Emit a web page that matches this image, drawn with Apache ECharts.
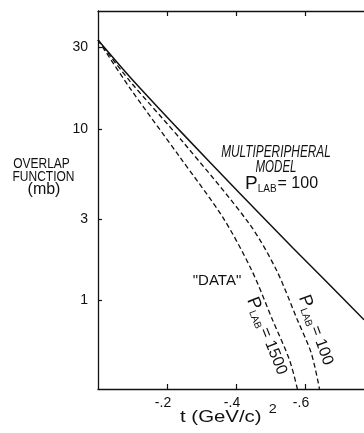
<!DOCTYPE html>
<html><head><meta charset="utf-8">
<script src="https://cdn.jsdelivr.net/npm/echarts@6/dist/echarts.min.js"></script>
<style>html,body{margin:0;padding:0;background:#fff}#c{width:364px;height:433px}</style>
</head><body><div id="c"></div>
<script>
// ---- data ----
const xTicks = [-0.6, -0.4, -0.2];
const xTickLabels = ['-.6', '-.4', '-.2'];
const yTicks = [1, 3, 10, 30];
const yTickLabels = ['1', '3', '10', '30'];

const tModel = [0, -0.0925, -0.246, -0.41, -0.565, -0.656, -0.771];
const model100 = [33.2, 20.2, 9.4, 4.25, 2.03, 1.33, 0.774];

const tData100 = [0, -0.0925, -0.246, -0.439, -0.517, -0.578, -0.618, -0.642];
const data100 = [33.2, 19.1, 8.44, 2.80, 1.51, 0.771, 0.495, 0.305];

const tData1500 = [0, -0.0925, -0.237, -0.361, -0.445, -0.506, -0.555, -0.578];
const data1500 = [33.2, 17.4, 6.89, 3.08, 1.51, 0.771, 0.451, 0.305];

const FONT = 'Liberation Sans';
const INK = '#111';

const pairs = (xs, ys) => xs.map((x, i) => [x, ys[i]]);

const chart = echarts.init(document.getElementById('c'), null, {renderer: 'canvas'});

const axisCommon = {
  type: 'value', min: -0.771, max: 0, inverse: true,
  axisLine: {show: true, onZero: false, lineStyle: {color: INK, width: 1.3}},
  axisTick: {show: true, inside: true, length: 5, customValues: xTicks, lineStyle: {color: INK, width: 1.2}},
  splitLine: {show: false}
};

function txt(x, y, text, size, opts) {
  opts = opts || {};
  const st = opts.style || {};
  const rest = Object.assign({}, opts);
  delete rest.style;
  return Object.assign({type: 'text', x: x, y: y, silent: true}, rest, {
    style: Object.assign({
      text: text, fill: INK, font: 'normal ' + size + 'px "' + FONT + '"',
      textAlign: 'center', textVerticalAlign: 'middle'
    }, st)
  });
}

function plab(x, y, num, rotDeg) {
  return {
    type: 'text', x: x, y: y, rotation: -rotDeg * Math.PI / 180, silent: true,
    style: {
      text: '{p|P}{s|LAB}{n|= ' + num + '}',
      textAlign: 'center', textVerticalAlign: 'middle', fill: INK,
      rich: {
        p: {fontSize: 18, fontFamily: FONT, color: INK},
        s: {fontSize: 10, fontFamily: FONT, color: INK, padding: [10, 2, 0, 0]},
        n: {fontSize: 16, fontFamily: FONT, color: INK}
      }
    }
  };
}

chart.setOption({
  animation: false,
  backgroundColor: '#fff',
  grid: {left: 98, top: 11, right: 0, bottom: 44, containLabel: false},
  xAxis: [
    Object.assign({}, axisCommon, {
      position: 'bottom',
      axisLabel: {
        show: true, customValues: xTicks, margin: 7, color: INK, fontSize: 14, fontFamily: FONT,
        padding: [0, 8, 0, 0],
        formatter: v => { const i = xTicks.findIndex(t => Math.abs(t - v) < 1e-9); return i >= 0 ? xTickLabels[i] : ''; }
      }
    }),
    Object.assign({}, axisCommon, {position: 'top', axisLabel: {show: false}})
  ],
  yAxis: {
    type: 'log', logBase: 10, min: 0.305, max: 49,
    axisLine: {show: true, onZero: false, lineStyle: {color: INK, width: 1.3}},
    axisTick: {show: true, inside: true, length: 4, customValues: yTicks, lineStyle: {color: INK, width: 1.2}},
    axisLabel: {
      show: true, customValues: yTicks, margin: 10, color: INK, fontSize: 14, fontFamily: FONT,
      formatter: v => { const i = yTicks.findIndex(t => Math.abs(t - v) < 1e-6); return i >= 0 ? yTickLabels[i] : ''; }
    },
    minorTick: {show: false},
    splitLine: {show: false}
  },
  series: [
    {
      name: 'Multiperipheral model, PLAB = 100', type: 'line', xAxisIndex: 0,
      data: pairs(tModel, model100), smooth: 0.25, showSymbol: false, symbol: 'none',
      lineStyle: {color: INK, width: 1.5, type: 'solid'}, clip: true
    },
    {
      name: '"DATA" PLAB = 100', type: 'line', xAxisIndex: 0,
      data: pairs(tData100, data100), smooth: 0.3, showSymbol: false, symbol: 'none',
      lineStyle: {color: INK, width: 1.3, type: [5, 3]}, clip: true
    },
    {
      name: '"DATA" PLAB = 1500', type: 'line', xAxisIndex: 0,
      data: pairs(tData1500, data1500), smooth: 0.3, showSymbol: false, symbol: 'none',
      lineStyle: {color: INK, width: 1.3, type: [5, 3]}, clip: true
    }
  ],
  graphic: [
    txt(41.5, 163.5, 'OVERLAP', 15, {scaleX: 0.8}),
    txt(43.5, 176.5, 'FUNCTION', 15, {scaleX: 0.8}),
    txt(44, 189.5, '(mb)', 16),
    txt(276, 152.5, 'MULTIPERIPHERAL', 16, {scaleX: 0.74, style: {font: 'italic 16px "' + FONT + '"'}}),
    txt(276, 168, 'MODEL', 16, {scaleX: 0.72, style: {font: 'italic 16px "' + FONT + '"'}}),
    {
      type: 'text', x: 245, y: 184, silent: true,
      style: {
        text: '{p|P}{s|LAB}{n|= 100}', textAlign: 'left', textVerticalAlign: 'middle', fill: INK,
        rich: {
          p: {fontSize: 19, fontFamily: FONT, color: INK},
          s: {fontSize: 10, fontFamily: FONT, color: INK, padding: [11, 1, 0, 0]},
          n: {fontSize: 16, fontFamily: FONT, color: INK}
        }
      }
    },
    txt(217, 281, '"DATA"', 15),
    plab(267, 336, '1500', 68),
    plab(316, 330, '100', 70),
    {
      type: 'text', x: 180, y: 417, scaleX: 1.2, silent: true,
      style: {
        text: '{a|t (GeV/c)}{b|2}', textAlign: 'left', textVerticalAlign: 'middle', fill: INK,
        rich: {
          a: {fontSize: 17, fontFamily: FONT, color: INK},
          b: {fontSize: 12, fontFamily: FONT, color: INK, padding: [0, 0, 14, 6]}
        }
      }
    }
  ]
});
</script>
</body></html>
